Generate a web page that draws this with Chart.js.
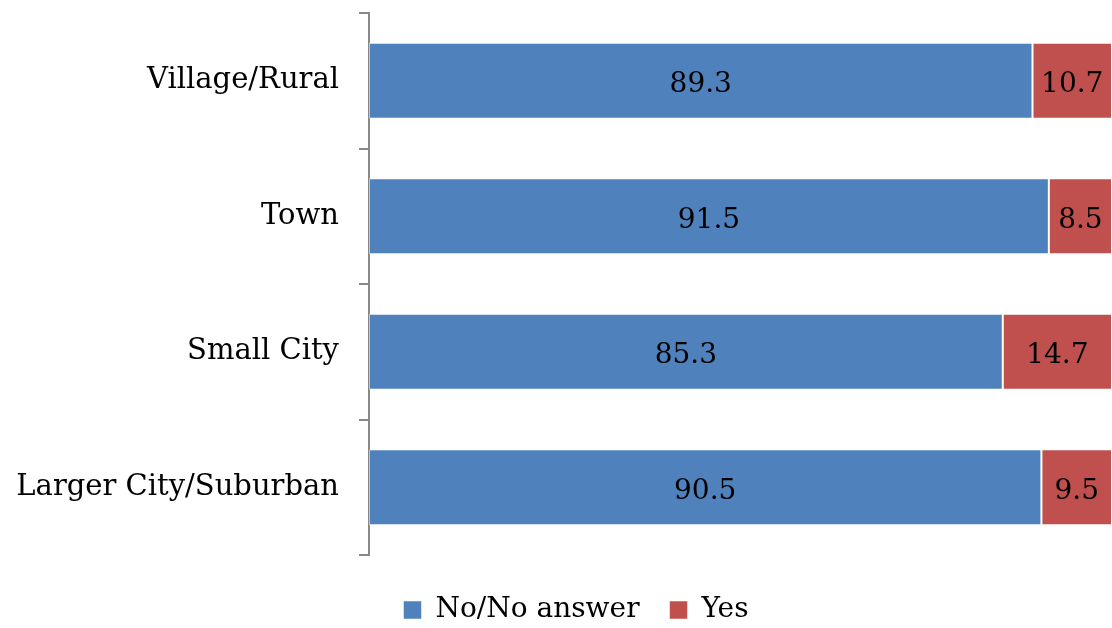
<!DOCTYPE html>
<html>
<head>
<meta charset="utf-8">
<script src="https://cdn.jsdelivr.net/npm/chart.js@4.4.1/dist/chart.umd.min.js"></script>
<style>
  html, body { margin: 0; padding: 0; background: #fff; }
  #wrap { width: 1112px; height: 628px; }
</style>
</head>
<body>
<div id="wrap"><canvas id="chart"></canvas></div>
<script>
// Share of respondents by area type
const areas = ['Village/Rural', 'Town', 'Small City', 'Larger City/Suburban'];
const noAnswer = [89.3, 91.5, 85.3, 90.5];
const yes = [10.7, 8.5, 14.7, 9.5];

const serif = '"DejaVu Serif", serif';

// writes each segment's value in the middle of its bar
const valueLabels = {
    id: 'valueLabels',
    afterDatasetsDraw(chart) {
        const ctx = chart.ctx;
        ctx.save();
        ctx.font = '28px ' + serif;
        ctx.fillStyle = '#000';
        ctx.textAlign = 'center';
        ctx.textBaseline = 'middle';
        chart.data.datasets.forEach((ds, i) => {
            chart.getDatasetMeta(i).data.forEach((bar, j) => {
                const mid = (bar.x + bar.base) / 2;
                ctx.fillText(ds.data[j].toFixed(1), mid, bar.y + 4);
            });
        });
        ctx.restore();
    }
};

// keep the legend short and nudge it under the bars
const legendPlacement = {
    id: 'legendPlacement',
    beforeInit(chart) {
        const fit = chart.legend.fit;
        chart.legend.fit = function () {
            fit.call(this);
            this.height = 73;
        };
    },
    afterLayout(chart) {
        chart.legend.left += 40;
        chart.legend.top += 11;
    }
};

const ctx = document.getElementById('chart').getContext('2d');
new Chart(ctx, {
    type: 'bar',
    data: {
        labels: areas,
        datasets: [{
            label: 'No/No answer',
            data: noAnswer,
            backgroundColor: '#4F81BD',
            borderColor: 'rgba(255,255,255,0.5)',
            borderWidth: 1,
            borderSkipped: false
        }, {
            label: 'Yes',
            data: yes,
            backgroundColor: '#C0504D',
            borderColor: 'rgba(255,255,255,0.5)',
            borderWidth: 1,
            borderSkipped: false
        }]
    },
    options: {
        indexAxis: 'y',
        responsive: true,
        maintainAspectRatio: false,
        animation: false,
        layout: { padding: { top: 13, right: 0, bottom: 0, left: 0 } },
        datasets: { bar: { categoryPercentage: 1, barPercentage: 0.56 } },
        scales: {
            x: { stacked: true, min: 0, max: 100, display: false },
            y: {
                stacked: true,
                afterFit: s => {
                    s.width = 369;
                    s.paddingTop = 0;
                    s.paddingBottom = 0;
                },
                border: { color: '#888', width: 2 },
                grid: { drawOnChartArea: false, tickLength: 10, color: '#888', lineWidth: 2 },
                ticks: { color: '#000', padding: 20, font: { family: serif, size: 29 } }
            }
        },
        plugins: {
            legend: {
                position: 'bottom',
                labels: {
                    color: '#000',
                    boxWidth: 18,
                    boxHeight: 18,
                    padding: 30,
                    font: { family: serif, size: 28 }
                }
            },
            tooltip: { enabled: false }
        }
    },
    plugins: [valueLabels, legendPlacement]
});
</script>
</body>
</html>
